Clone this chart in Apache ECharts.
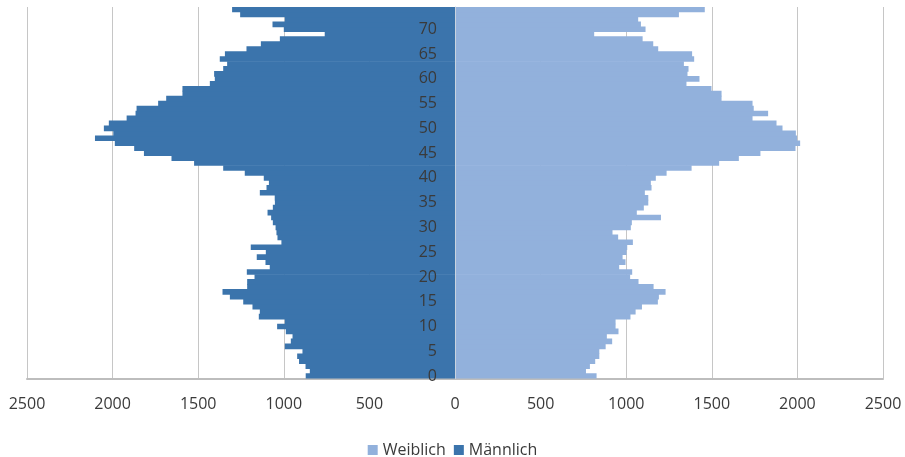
<!DOCTYPE html>
<html>
<head>
<meta charset="utf-8">
<script src="https://cdn.jsdelivr.net/npm/echarts@6/dist/echarts.min.js"></script>
<style>
  html, body { margin: 0; padding: 0; background: #ffffff; }
  #chart { width: 905px; height: 457px; }
</style>
</head>
<body>
<div id="chart"></div>
<script>
// Altersjahre 0 bis 74
const ages = Array.from({ length: 75 }, (_, i) => String(i));

// Einwohner nach Alter, weiblich (Index = Alter)
const female = [
  827, 765, 788, 819, 843, 843, 880, 918, 887, 955,
  938, 938, 1025, 1055, 1092, 1185, 1191, 1230, 1160, 1072,
  1023, 1035, 959, 996, 979, 1002, 1006, 1039, 953, 920,
  1027, 1033, 1203, 1062, 1103, 1129, 1129, 1109, 1148, 1144,
  1173, 1236, 1382, 1543, 1658, 1784, 1989, 2016, 1998, 1991,
  1913, 1878, 1738, 1829, 1745, 1738, 1557, 1557, 1498, 1352,
  1428, 1358, 1364, 1337, 1397, 1385, 1187, 1158, 1096, 813,
  1113, 1086, 1070, 1308, 1459
];

// Einwohner nach Alter, männlich (Index = Alter)
const male = [
  872, 848, 873, 911, 922, 891, 994, 959, 949, 988,
  1039, 994, 1146, 1140, 1183, 1237, 1315, 1358, 1214, 1214,
  1171, 1216, 1082, 1107, 1158, 1105, 1193, 1014, 1037, 1043,
  1048, 1064, 1074, 1095, 1064, 1052, 1053, 1140, 1101, 1087,
  1117, 1228, 1354, 1524, 1656, 1817, 1874, 1987, 2103, 1996,
  2051, 2022, 1918, 1866, 1860, 1734, 1687, 1592, 1592, 1432,
  1403, 1407, 1354, 1331, 1374, 1344, 1218, 1134, 1023, 761,
  1000, 1066, 994, 1255, 1302
];

const xTicks = { min: -2500, max: 2500, step: 500 };

const FONT = 'Open Sans';
const TEXT = '#3a3a3a';
const GRID = '#c6c6c6';
const COLOR_F = '#92b1dc';
const COLOR_M = '#3b74ac';

const GRID_LEFT = 27;
const GRID_RIGHT = 22;
const GRID_TOP = 7;
const GRID_BOTTOM = 78.5;
const CHART_W = 905;
const CHART_H = 457;

const chart = echarts.init(document.getElementById('chart'), null, { renderer: 'canvas' });

// the age axis sits on the zero line between the two halves
const plotWidth = CHART_W - GRID_LEFT - GRID_RIGHT;
const centerOffset = -plotWidth / 2;
// bars are made a touch thicker than one band so neighbouring rows join without seams
const band = (CHART_H - GRID_TOP - GRID_BOTTOM) / ages.length;
const barThickness = band + 0.7;

chart.setOption({
  animation: false,
  backgroundColor: '#ffffff',
  textStyle: { fontFamily: FONT },
  grid: {
    left: GRID_LEFT, right: GRID_RIGHT, top: GRID_TOP, bottom: GRID_BOTTOM,
    containLabel: false,
    outerBoundsMode: 'none'
  },
  legend: {
    data: ['Weiblich', 'Männlich'],
    left: 'center',
    top: 437,
    icon: 'rect',
    itemWidth: 10,
    itemHeight: 10,
    itemGap: 8,
    textStyle: { fontFamily: FONT, fontSize: 16, color: TEXT }
  },
  xAxis: {
    type: 'value',
    min: xTicks.min,
    max: xTicks.max,
    interval: xTicks.step,
    axisLine: { show: true, onZero: false, lineStyle: { color: '#bdbdbd', width: 2 } },
    axisTick: { show: false },
    splitLine: { show: true, lineStyle: { color: GRID, width: 1 } },
    axisLabel: {
      margin: 18,
      fontFamily: FONT,
      fontSize: 16,
      color: TEXT,
      formatter: v => String(Math.abs(v))
    }
  },
  yAxis: {
    type: 'category',
    data: ages,
    position: 'left',
    offset: centerOffset,
    z: 10,
    axisLine: { show: true, onZero: false, lineStyle: { color: '#c9d3df', width: 1 } },
    axisTick: { show: false },
    axisLabel: {
      interval: 4,
      margin: 18,
      fontFamily: FONT,
      fontSize: 16,
      color: TEXT
    }
  },
  series: [
    {
      name: 'Weiblich',
      type: 'bar',
      data: female,
      barGap: '-100%',
      barWidth: barThickness,
      itemStyle: { color: COLOR_F }
    },
    {
      name: 'Männlich',
      type: 'bar',
      data: male.map(v => -v),
      barGap: '-100%',
      barWidth: barThickness,
      itemStyle: { color: COLOR_M }
    }
  ]
});
</script>
</body>
</html>
